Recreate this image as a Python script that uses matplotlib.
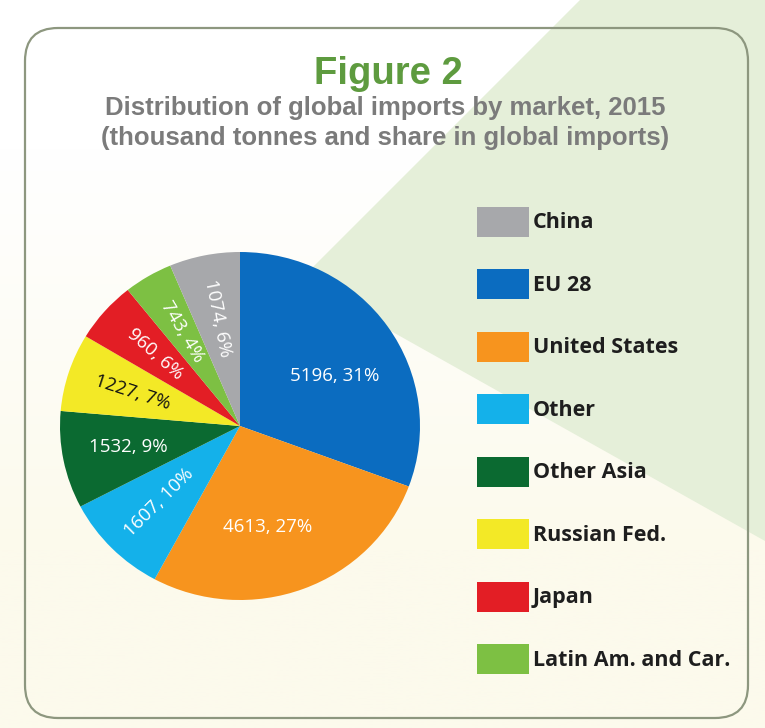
import numpy as np
import matplotlib.pyplot as plt
from matplotlib.patches import FancyBboxPatch, Polygon, Rectangle

# data, in pie order (clockwise from 12 o'clock)
markets = ["EU 28", "United States", "Other", "Other Asia", "Russian Fed.",
           "Japan", "Latin Am. and Car.", "China"]
imports = [5196, 4613, 1607, 1532, 1227, 960, 743, 1074]
shares = [31, 27, 10, 9, 7, 6, 4, 6]
legend_order = ["China", "EU 28", "United States", "Other", "Other Asia",
                "Russian Fed.", "Japan", "Latin Am. and Car."]

colors = {"China": "#a7a8ab", "EU 28": "#0b6cc0", "United States": "#f7941e",
          "Other": "#14b1ea", "Other Asia": "#0b6a31", "Russian Fed.": "#f3e926",
          "Japan": "#e31e25", "Latin Am. and Car.": "#7dc043"}

W, H = 765, 728
fig = plt.figure(figsize=(W / 100, H / 100), dpi=100)

# background axes in pixel coords
bg = fig.add_axes([0, 0, 1, 1])
bg.set_xlim(0, W)
bg.set_ylim(H, 0)
bg.axis("off")

grad = np.linspace(0, 1, 256)[:, None]
grad = np.clip((grad * H - 150) / 400, 0, 1)
top = np.array([1.0, 1.0, 1.0])
bot = np.array([0xfc, 0xfa, 0xec]) / 255
img = top[None, None, :] * (1 - grad[..., None]) + bot[None, None, :] * grad[..., None]
bg.imshow(img, extent=[0, W, H, 0], aspect="auto", zorder=0)

bg.add_patch(Polygon([(580, 0), (W, 0), (W, 541), (300, 280)], closed=True,
                     facecolor="#e5efd9", edgecolor="none", zorder=1))
bg.add_patch(FancyBboxPatch((25 + 33, 28 + 33), 723 - 66, 690 - 66,
                            boxstyle="round,pad=33", facecolor="none",
                            edgecolor="#8d977f", linewidth=1.6, zorder=2))

title_font = ["Liberation Sans", "DejaVu Sans"]
bg.text(388, 84, "Figure 2", ha="center", va="baseline", fontsize=27.5,
        fontweight="bold", color="#5e9b3f", family=title_font, zorder=3)
bg.text(385, 115, "Distribution of global imports by market, 2015", ha="center",
        va="baseline", fontsize=18.5, fontweight="bold", color="#7b7b7b",
        family=title_font, zorder=3)
bg.text(385, 145, "(thousand tonnes and share in global imports)", ha="center",
        va="baseline", fontsize=18.5, fontweight="bold", color="#7b7b7b",
        family=title_font, zorder=3)

# legend
ys = np.linspace(222, 659, len(legend_order))
for name, y in zip(legend_order, ys):
    bg.add_patch(Rectangle((477, y - 15), 52, 30, facecolor=colors[name],
                           edgecolor="none", zorder=3))
    bg.text(533, y + 1, name, ha="left", va="center", fontsize=15.5,
            fontweight="bold", color="#1e1e1e", family=["Open Sans", "DejaVu Sans"],
            zorder=3)

# pie
px0, px1, py0, py1 = 60, 420, 252, 600
ax = fig.add_axes([px0 / W, 1 - py1 / H, (px1 - px0) / W, (py1 - py0) / H])
ax.patch.set_alpha(0)
wedges, _ = ax.pie(imports, colors=[colors[m] for m in markets], startangle=90,
                   counterclock=False, radius=1.0,
                   wedgeprops=dict(linewidth=0))
ax.set_aspect("auto")
ax.set_xlim(-1, 1)
ax.set_ylim(-1, 1)

total = sum(imports)
for w, val, sh in zip(wedges, imports, shares):
    mid = (w.theta1 + w.theta2) / 2
    big = val / total > 0.2
    if big:
        mid -= 6
    r = 0.6 if big else 0.63
    x = r * np.cos(np.radians(mid))
    y = r * np.sin(np.radians(mid))
    ang = mid % 360
    if big or abs(ang - 180) < 15:
        rot = 0
    elif 90 < ang < 270:
        rot = ang - 180
    else:
        rot = ang
    fc = w.get_facecolor()
    lum = 0.299 * fc[0] + 0.587 * fc[1] + 0.114 * fc[2]
    ax.text(x, y, f"{val}, {sh}%", ha="center", va="center", rotation=rot,
            rotation_mode="anchor", fontsize=13.5,
            color="#111111" if lum > 0.7 else "white",
            family=["Open Sans", "DejaVu Sans"])

fig.savefig("out.png", dpi=100)
